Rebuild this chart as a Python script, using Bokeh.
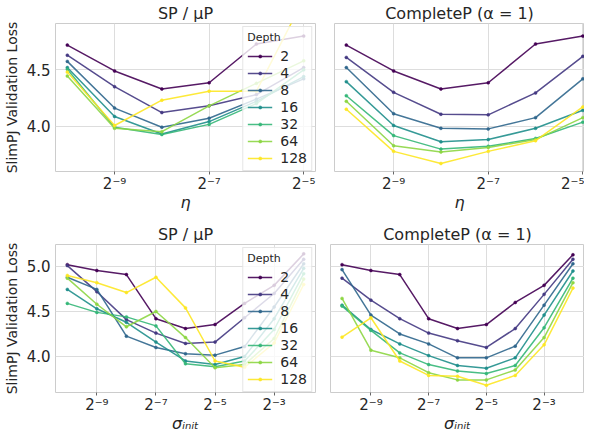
from bokeh.plotting import figure
from bokeh.layouts import column, row
from bokeh.models import Range1d, FixedTicker, CustomJSTickFormatter, PrintfTickFormatter
from bokeh.palettes import Viridis7
from bokeh.embed import file_html
from bokeh.resources import INLINE

# ---------------- data ----------------
depth_labels = ["2", "4", "8", "16", "32", "64", "128"]
depth_colors = list(Viridis7)

lr = [2**-10, 2**-9, 2**-8, 2**-7, 2**-6, 2**-5]
sigma_init = [2**-10, 2**-9, 2**-8, 2**-7, 2**-6, 2**-5, 2**-4, 2**-3, 2**-2]

# SP / muP, learning-rate sweep (one list per depth)
sp_lr_loss = [
    [4.72, 4.49, 4.33, 4.385, 4.73, 4.80],
    [4.63, 4.35, 4.12, 4.18, 4.28, 4.52],
    [4.575, 4.16, 3.99, 4.07, 4.24, 4.42],
    [4.52, 4.085, 3.93, 4.04, 4.22, 4.44],
    [4.505, 3.99, 3.925, 4.015, 4.20, 4.50],
    [4.445, 3.98, 3.95, 4.18, 4.38, 4.58],
    [4.48, 4.005, 4.23, 4.31, 4.31, 5.13],
]
# CompleteP, learning-rate sweep
cp_lr_loss = [
    [4.72, 4.49, 4.33, 4.385, 4.73, 4.80],
    [4.61, 4.30, 4.105, 4.10, 4.295, 4.62],
    [4.52, 4.11, 3.98, 3.975, 4.075, 4.42],
    [4.395, 4.005, 3.86, 3.88, 3.98, 4.14],
    [4.27, 3.915, 3.795, 3.82, 3.89, 4.035],
    [4.22, 3.825, 3.77, 3.81, 3.88, 4.075],
    [4.15, 3.775, 3.667, 3.775, 3.87, 4.17],
]
# SP / muP, init-std sweep
sp_init_loss = [
    [5.02, 4.955, 4.91, 4.42, 4.31, 4.355, 4.59, 4.79, 5.14],
    [5.01, 4.72, 4.41, 4.26, 4.145, 4.16, 4.43, 4.70, 5.08],
    [4.88, 4.745, 4.226, 4.10, 4.03, 4.015, 4.11, 4.55, 5.03],
    [4.745, 4.53, 4.38, 4.16, 3.95, 3.91, 4.00, 4.42, 4.98],
    [4.59, 4.49, 4.44, 4.34, 3.92, 3.885, 3.95, 4.30, 4.92],
    [4.87, 4.58, 4.33, 4.50, 4.21, 3.875, 3.91, 4.20, 4.86],
    [4.90, 4.82, 4.71, 4.88, 4.54, 3.95, 3.88, 4.15, 4.80],
]
# CompleteP, init-std sweep
cp_init_loss = [
    [5.02, 4.955, 4.91, 4.42, 4.31, 4.355, 4.60, 4.79, 5.13],
    [4.87, 4.626, 4.42, 4.26, 4.175, 4.10, 4.31, 4.69, 5.08],
    [4.965, 4.46, 4.25, 4.14, 3.985, 3.985, 4.115, 4.57, 5.03],
    [4.57, 4.30, 4.14, 4.01, 3.90, 3.87, 3.985, 4.46, 4.95],
    [4.56, 4.29, 4.04, 3.91, 3.84, 3.81, 3.90, 4.32, 4.87],
    [4.645, 4.07, 3.985, 3.82, 3.74, 3.74, 3.85, 4.21, 4.82],
    [4.215, 4.43, 3.95, 3.79, 3.78, 3.68, 3.79, 4.13, 4.76],
]

lr_ticks = [2**-9, 2**-7, 2**-5]
lr_tick_labels = ["2\u207b\u2079", "2\u207b\u2077", "2\u207b\u2075"]
sigma_ticks = [2**-9, 2**-7, 2**-5, 2**-3]
sigma_tick_labels = ["2\u207b\u2079", "2\u207b\u2077", "2\u207b\u2075", "2\u207b\u00b3"]
loss_ticks_top = [4.0, 4.5]
loss_ticks_bottom = [4.0, 4.5, 5.0]

# ---------------- styling ----------------
FONT = "DejaVu Sans"
TXT = "#262626"


def tick_formatter(vals, labs):
    return CustomJSTickFormatter(args=dict(vals=vals, labs=labs), code="""
        for (let i = 0; i < vals.length; i++) {
            if (Math.abs(Math.log2(tick) - Math.log2(vals[i])) < 1e-6) { return labs[i]; }
        }
        return "";
    """)


def make_panel(title, xs, series, xr, yr, xticks, xlabs, yticks, xlabel,
               show_y, legend, fw, fh, bl, br, bt):
    p = figure(frame_width=fw, frame_height=fh, x_axis_type="log",
               x_range=Range1d(2 ** xr[0], 2 ** xr[1]), y_range=Range1d(*yr),
               output_backend="svg", toolbar_location=None, title=title,
               min_border_left=bl, min_border_right=br, min_border_top=bt,
               min_border_bottom=0)
    p.title.text_font = FONT
    p.title.text_font_size = "16px"
    p.title.text_font_style = "normal"
    p.title.text_color = TXT
    p.title.align = "center"
    p.title.standoff = 2
    p.outline_line_color = "#cccccc"
    p.outline_line_width = 1
    p.background_fill_color = "white"
    p.border_fill_color = "white"
    for g in (p.xgrid, p.ygrid):
        g.grid_line_color = "#dddddd"
        g.grid_line_width = 1

    xa = p.xaxis[0]
    xa.ticker = FixedTicker(ticks=xticks)
    xa.formatter = tick_formatter(xticks, xlabs)
    xa.axis_line_color = None
    xa.major_tick_in = 0
    xa.major_tick_out = 3
    xa.major_tick_line_color = "#666666"
    xa.minor_tick_line_color = None
    xa.major_label_standoff = 0
    xa.major_label_text_font = FONT
    xa.major_label_text_font_size = "15px"
    xa.major_label_text_color = TXT
    xa.axis_label = xlabel
    xa.axis_label_text_font = FONT
    xa.axis_label_text_font_size = "16px"
    xa.axis_label_text_font_style = "italic"
    xa.axis_label_text_color = TXT
    xa.axis_label_standoff = -3

    ya = p.yaxis[0]
    ya.ticker = FixedTicker(ticks=yticks)
    ya.formatter = PrintfTickFormatter(format="%.1f")
    ya.axis_line_color = None
    ya.major_tick_in = 0
    ya.major_tick_out = 0
    ya.minor_tick_line_color = None
    if show_y:
        ya.major_label_standoff = 5
        ya.major_label_text_font = FONT
        ya.major_label_text_font_size = "15px"
        ya.major_label_text_color = TXT
        ya.axis_label = "SlimPJ Validation Loss"
        ya.axis_label_text_font = FONT
        ya.axis_label_text_font_size = "14px"
        ya.axis_label_text_font_style = "normal"
        ya.axis_label_text_color = TXT
        ya.axis_label_standoff = 4
    else:
        ya.visible = False

    for lab, col, ys in zip(depth_labels, depth_colors, series):
        kw = dict(legend_label=lab) if legend else {}
        p.line(xs, ys, line_color=col, line_width=1.5, line_alpha=0.9, **kw)
        p.scatter(xs, ys, size=3, fill_color=col, line_color=col, line_width=0.5, **kw)

    if legend:
        lg = p.legend[0]
        lg.title = "Depth"
        lg.location = "top_right"
        lg.margin = 3
        lg.padding = 4
        lg.spacing = 0
        lg.label_height = 17
        lg.glyph_height = 8
        lg.glyph_width = 25
        lg.label_standoff = 8
        lg.label_text_font = FONT
        lg.label_text_font_size = "14px"
        lg.label_text_color = TXT
        lg.title_text_font = FONT
        lg.title_text_font_size = "11px"
        lg.title_text_font_style = "normal"
        lg.title_text_color = TXT
        lg.title_standoff = 3
        lg.background_fill_alpha = 0.8
        lg.border_line_color = "#cccccc"
        lg.border_line_width = 1
    return p


p1 = make_panel("SP / μP", lr, sp_lr_loss, (-10.25, -4.75), (3.596, 4.912),
                lr_ticks, lr_tick_labels, loss_ticks_top, "η",
                True, True, 260, 148, 50, 7, 0)
p2 = make_panel("CompleteP (α = 1)", lr, cp_lr_loss, (-10.25, -4.965), (3.596, 4.912),
                lr_ticks, lr_tick_labels, loss_ticks_top, "η",
                False, False, 250, 148, 12, 0, 0)
p3 = make_panel("SP / μP", sigma_init, sp_init_loss, (-10.4, -1.6), (3.60, 5.244),
                sigma_ticks, sigma_tick_labels, loss_ticks_bottom, "σᵢₙᵢₜ",
                True, True, 260, 148, 50, 5, 30)
p4 = make_panel("CompleteP (α = 1)", sigma_init, cp_init_loss, (-10.4, -1.6), (3.60, 5.244),
                sigma_ticks, sigma_tick_labels, loss_ticks_bottom, "σᵢₙᵢₜ",
                False, False, 254, 148, 10, 0, 30)

layout = column(row(p1, p2), row(p3, p4))

with open("out.html", "w") as f:
    f.write(file_html(layout, INLINE))
